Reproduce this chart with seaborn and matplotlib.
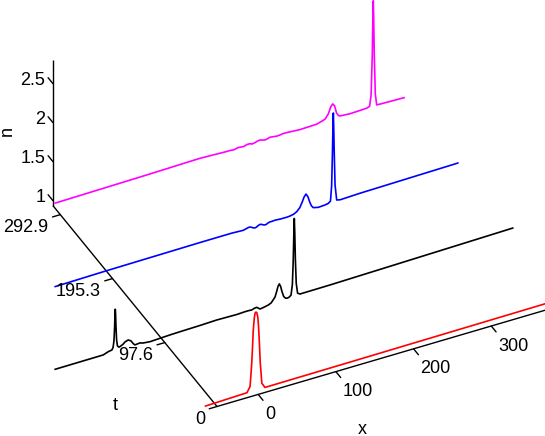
import numpy as np
import matplotlib
matplotlib.use("Agg")
import matplotlib.pyplot as plt
import seaborn as sns

# ---------------- data ----------------
t_levels = [0.0, 97.6, 195.3, 292.9]
t_tick_labels = ["0", "97.6", "195.3", "292.9"]
x_ticks = [0, 100, 200, 300]
n_ticks = [1, 1.5, 2, 2.5]
n_tick_labels = ["1", "1.5", "2", "2.5"]
curve_colors = ["#ff0000", "#000000", "#0000ff", "#ff00ff"]

x_t0 = [-68, -14.5, -10.5, -9.5, -8.3, -7.3, -6.3, -5, -4, -2.9, -1.8, -0.5,
        0.5, 1.5, 2.7, 4.7, 8.7, 120, 395]
n_t0 = [0.985, 1.0, 1.066, 1.19, 1.36, 1.56, 1.78, 1.93, 1.99, 2.0, 1.99, 1.93,
        1.8, 1.6, 1.33, 1.066, 1.0, 1.005, 1.02]

x_t1 = [-194.3, -132.2, -125.7, -121, -119.5, -118.4, -117.6, -117.1, -116.7,
        -116.3, -115.8, -115.0, -113.9, -112, -110.7, -107, -104, -100, -96.5,
        -93.5, -91.4, -88, -84.9, -81, -72, -59, -45, -33.4, -7.7, 13.8, 40,
        50, 55, 58.8, 62, 65.3, 67.5, 69.5, 74, 80.2, 84, 86, 88.8, 91, 92.7,
        94.4, 96.1, 97.8, 100, 102.5, 104.7, 107, 109.5, 111.2, 112.3, 113.1,
        113.7, 114.3, 115.1, 116.2, 117.9, 121, 159.6, 395.1]
n_t1 = [1.006, 1.009, 1.032, 1.04, 1.07, 1.15, 1.32, 1.48, 1.55,
        1.48, 1.32, 1.15, 1.07, 1.05, 1.053, 1.07, 1.095, 1.107, 1.085,
        1.04, 1.018, 1.022, 1.025, 1.012, 1.003, 1.009, 1.015, 1.018, 1.023, 1.03,
        1.025, 1.03, 1.03, 1.027, 1.038, 1.042, 1.025, 1.008, 1.015, 1.028, 1.045,
        1.07, 1.103, 1.17, 1.23, 1.257, 1.22, 1.15, 1.08, 1.05, 1.045, 1.05,
        1.07, 1.2, 1.5, 1.85, 2.04, 1.85, 1.5, 1.2, 1.07, 1.05, 1.053, 1.095]

x_t2 = [-127, -60.5, 59.6, 100, 115.3, 119, 122, 124, 126, 128.5, 130.4, 132,
        134.5, 136.8, 138.5, 141, 143.3, 145, 147.5, 149.7, 152, 156, 163,
        171.2, 175.4, 180, 184, 188, 191, 193.5, 196, 198.5, 201, 203, 205.4,
        212, 220, 224.7, 227.5, 229, 230, 230.7, 231.2, 231.7, 232.4, 233.4,
        235.5, 240, 265.5, 391.7]
n_t2 = [1.049, 1.059, 1.069, 1.07, 1.063, 1.072, 1.08, 1.08, 1.07, 1.055, 1.05,
        1.053, 1.068, 1.075, 1.072, 1.058, 1.05, 1.053, 1.065, 1.07, 1.07, 1.073,
        1.068, 1.067, 1.07, 1.08, 1.1, 1.14, 1.2, 1.26, 1.292, 1.25, 1.17, 1.12,
        1.09, 1.075, 1.08, 1.088, 1.11, 1.3, 1.7, 2.05, 2.228, 2.05, 1.7, 1.3,
        1.1, 1.09, 1.099, 1.118]

x_t3 = [-59.8, 60, 126.8, 160, 166, 169.7, 173, 176, 179, 182.6, 185, 187,
        191.1, 194, 197.6, 201, 204, 207, 210.4, 213.5, 216.9, 222, 226,
        229.8, 234, 238.5, 255.5, 276.9, 287.6, 292, 295, 297.6, 300, 302.5,
        305, 307, 320, 341.3, 345, 347, 348.5, 349.3, 349.8, 350.3, 351.1,
        352.4, 354.2, 360, 389.7]
n_t3 = [1.103, 1.12, 1.133, 1.12, 1.12, 1.114, 1.12, 1.127, 1.124, 1.119, 1.125,
        1.133, 1.132, 1.12, 1.127, 1.138, 1.142, 1.132, 1.123, 1.13, 1.14, 1.133,
        1.128, 1.131, 1.137, 1.136, 1.125, 1.131, 1.163, 1.22, 1.3, 1.331, 1.3,
        1.2, 1.16, 1.149, 1.14, 1.148, 1.16, 1.3, 1.8, 2.3, 2.5, 2.3, 1.8, 1.3,
        1.153, 1.15, 1.142]

curves_x = [x_t0, x_t1, x_t2, x_t3]
curves_n = [n_t0, n_t1, n_t2, n_t3]

# axis ranges
x_range = (-53, 400)
t_range = (0, 306.7)
n_range = (0.936, 2.8)

# ---------------- oblique 3-D projection (gnuplot-like view) ----------------
W, H = 545, 436
ORIGIN = (217.0, 406.5)          # screen position of (xmin, t=0, nmin)
EX = (0.777, -0.228)             # screen step per unit x
ET = (-0.535, -0.655)            # screen step per unit t
EN = (0.0, -78.0)                # screen step per unit n


def proj(x, t, n):
    x = np.asarray(x, float) - x_range[0]
    t = np.asarray(t, float) - t_range[0]
    n = np.asarray(n, float) - n_range[0]
    sx = ORIGIN[0] + EX[0] * x + ET[0] * t + EN[0] * n
    sy = ORIGIN[1] + EX[1] * x + ET[1] * t + EN[1] * n
    return sx, sy


sns.set_style("white")
plt.rcParams["font.family"] = ["Liberation Sans", "DejaVu Sans"]
plt.rcParams["text.color"] = "black"
FS = 13

fig = plt.figure(figsize=(W / 100, H / 100), dpi=100)
ax = fig.add_axes([0, 0, 1, 1])

LW = 1.0
CLW = 1.2
# axes
x0, x1 = x_range
t0, t1 = t_range
z0, z1 = n_range
for (a, b) in [((x0, t0, z0), (x1, t0, z0)),
               ((x0, t0, z0), (x0, t1, z0)),
               ((x0, t1, z0), (x0, t1, z1))]:
    sx, sy = proj([a[0], b[0]], [a[1], b[1]], [a[2], b[2]])
    ax.plot(sx, sy, color="black", lw=LW, solid_capstyle="butt")

# x ticks
for xv in x_ticks:
    sx, sy = proj([xv, xv], [t0, t0 - 9], [z0, z0])
    ax.plot(sx, sy, color="black", lw=LW)
    ax.annotate(str(xv), xy=(sx[0], sy[0]), xytext=(7, -20), color="black",
                textcoords="offset pixels", ha="left", va="center", fontsize=FS)
# t ticks
for tv, lab in zip(t_levels, t_tick_labels):
    sx, sy = proj([x0, x0 - 10], [tv, tv], [z0, z0])
    ax.plot(sx, sy, color="black", lw=LW)
    ax.annotate(lab, xy=(sx[0], sy[0]), xytext=(-12, -13), color="black",
                textcoords="offset pixels", ha="right", va="center", fontsize=FS)
# n ticks
for nv, lab in zip(n_ticks, n_tick_labels):
    sx, sy = proj([x0, x0], [t1, t1 + 9], [nv, nv])
    ax.plot(sx, sy, color="black", lw=LW)
    ax.annotate(lab, xy=(sx[0], sy[0]), xytext=(-7.5, 3.5), color="black",
                textcoords="offset pixels", ha="right", va="center", fontsize=FS)

# curves
for tv, xs, ns, c in zip(t_levels, curves_x, curves_n, curve_colors):
    sx, sy = proj(xs, np.full(len(xs), tv), ns)
    sns.lineplot(x=sx, y=sy, sort=False, estimator=None, color=c, lw=CLW, ax=ax)

# axis titles
ax.text(7.5, 131, "n", rotation=90, ha="center", va="center", fontsize=FS, color="black")
ax.text(115, 405, "t", ha="center", va="center", fontsize=FS, color="black")
ax.text(362, 429, "x", ha="center", va="center", fontsize=FS, color="black")

ax.set_xlim(0, W)
ax.set_ylim(H, 0)
ax.set_axis_off()
fig.savefig("out.png", dpi=100)
